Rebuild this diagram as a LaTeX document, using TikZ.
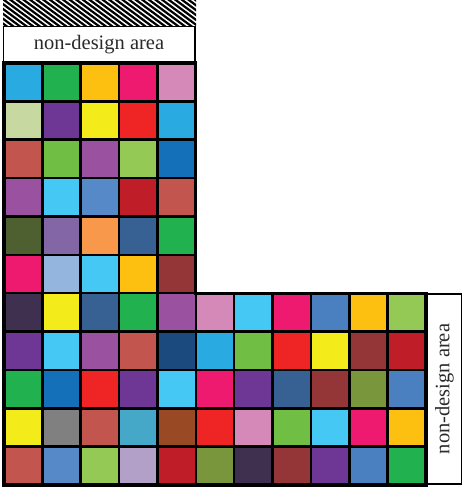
\documentclass[tikz,border=0pt]{standalone}
\usepackage{fontspec}
\setmainfont{Liberation Serif}
\definecolor{skyb}{HTML}{29ABE2}
\definecolor{grn}{HTML}{21B24F}
\definecolor{amb}{HTML}{FDC010}
\definecolor{pnk}{HTML}{ED1A6F}
\definecolor{orc}{HTML}{D589B9}
\definecolor{pgrn}{HTML}{C7D9A0}
\definecolor{purp}{HTML}{6F3795}
\definecolor{yel}{HTML}{F4EB1A}
\definecolor{rd}{HTML}{EE2524}
\definecolor{ired}{HTML}{C3554F}
\definecolor{lgrn}{HTML}{70BF44}
\definecolor{mpur}{HTML}{9A52A0}
\definecolor{ygrn}{HTML}{95C955}
\definecolor{blu}{HTML}{1570BA}
\definecolor{cyn}{HTML}{45C9F4}
\definecolor{stb}{HTML}{5589C7}
\definecolor{drd}{HTML}{BF1E28}
\definecolor{olv}{HTML}{4E6030}
\definecolor{lav}{HTML}{8366A6}
\definecolor{org}{HTML}{F7984A}
\definecolor{dstb}{HTML}{376193}
\definecolor{lblu}{HTML}{94B5DE}
\definecolor{mar}{HTML}{943638}
\definecolor{dpur}{HTML}{40304F}
\definecolor{mblu}{HTML}{4A80C0}
\definecolor{nav}{HTML}{1A4A7E}
\definecolor{ogrn}{HTML}{7A963C}
\definecolor{gry}{HTML}{808080}
\definecolor{teal}{HTML}{45A8C8}
\definecolor{brn}{HTML}{994A24}
\definecolor{lil}{HTML}{B2A0C8}
\definecolor{txt}{HTML}{2A2A2A}
\tikzset{
  cellbox/.style={draw=black, line width=2.6pt},
  labelbox/.style={draw=black, line width=1.8pt, fill=white},
  labeltext/.style={text=txt, font=\fontsize{20.5}{24}\selectfont, inner sep=0pt}
}
\newcommand{\cs}{38.36}
\newcommand{\cellrow}[2]{%
  \foreach \c [count=\j from 0] in {#2}
    \filldraw[cellbox, fill=\c] ({4+\j*\cs},{63+#1*\cs}) rectangle ++(\cs,\cs);
}
\begin{document}
\begin{tikzpicture}[x=1pt,y=-1pt]
\useasboundingbox (0,0) rectangle (463,487);
\fill[white] (0,0) rectangle (463,487);
% hatch
\begin{scope}
\clip (3,0) rectangle (196,25.5);
\foreach \i in {-10,...,32}
  \draw[line width=2.2pt] (\i*6.6,-3) -- ++(42,31);
\end{scope}
% top label
\draw[labelbox] (3.5,26.5) rectangle (195,62);
\node[labeltext] (toplabel) at (99,44.5) {non-design area};
% cells
\cellrow{0}{skyb,grn,amb,pnk,orc}
\cellrow{1}{pgrn,purp,yel,rd,skyb}
\cellrow{2}{ired,lgrn,mpur,ygrn,blu}
\cellrow{3}{mpur,cyn,stb,drd,ired}
\cellrow{4}{olv,lav,org,dstb,grn}
\cellrow{5}{pnk,lblu,cyn,amb,mar}
\cellrow{6}{dpur,yel,dstb,grn,mpur,orc,cyn,pnk,mblu,amb,ygrn}
\cellrow{7}{purp,cyn,mpur,ired,nav,skyb,lgrn,rd,yel,mar,drd}
\cellrow{8}{grn,blu,rd,purp,cyn,pnk,purp,dstb,mar,ogrn,mblu}
\cellrow{9}{yel,gry,ired,teal,brn,rd,orc,lgrn,cyn,pnk,amb}
\cellrow{10}{ired,stb,ygrn,lil,drd,ogrn,dpur,mar,purp,mblu,grn}
% outer outline
\draw[line width=3.2pt, line join=miter]
  (4,63) -- ({4+5*\cs},63) -- ({4+5*\cs},{63+6*\cs}) -- ({4+11*\cs},{63+6*\cs})
  -- ({4+11*\cs},{63+11*\cs}) -- (4,{63+11*\cs}) -- cycle;
% right label
\draw[labelbox] (427.5,294) rectangle (461.5,484);
\node[labeltext, rotate=90] (rightlabel) at (444.5,389) {non-design area};
\end{tikzpicture}
\end{document}
